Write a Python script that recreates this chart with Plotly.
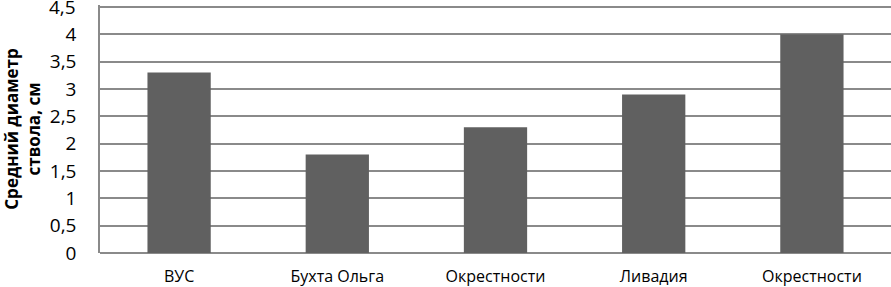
import plotly.graph_objects as go

categories = ["ВУС", "Бухта Ольга", "Окрестности", "Ливадия", "Окрестности"]
values = [3.3, 1.8, 2.3, 2.9, 4.0]
y_ticks = [0, 0.5, 1, 1.5, 2, 2.5, 3, 3.5, 4, 4.5]
positions = list(range(len(categories)))

fig = go.Figure(go.Bar(
    x=positions, y=values, width=0.4,
    marker=dict(color="#606060", line=dict(width=0)),
))

font_family = "Open Sans, Liberation Sans, sans-serif"
grid_color = "#8a8a8a"
fig.update_layout(
    width=891, height=287,
    margin=dict(l=100, r=0, t=5, b=34),
    paper_bgcolor="white", plot_bgcolor="white",
    separators=", ",
    showlegend=False,
    font=dict(family=font_family, color="#000000", size=15),
)
fig.update_xaxes(
    tickmode="array", tickvals=positions, ticktext=categories,
    range=[-0.5, len(categories) - 0.5],
    showgrid=False, zeroline=False, showline=False,
    ticks="", tickfont=dict(size=16), ticklabelstandoff=12,
    automargin=False,
)
fig.update_yaxes(
    range=[0, 4.5366], tickmode="array", tickvals=y_ticks,
    showgrid=True, gridcolor=grid_color, gridwidth=1.5,
    zeroline=True, zerolinecolor=grid_color, zerolinewidth=1.5,
    showline=True, linecolor=grid_color, linewidth=1.5,
    ticks="", tickfont=dict(size=19), ticklabelstandoff=18,
    automargin=False,
    title=dict(text="<b>Средний диаметр<br>ствола, см</b>", font=dict(size=17), standoff=6),
)

# top gridline and its label (plotly drops the tick closest to the paper edge)
top = y_ticks[-1]
fig.add_shape(type="line", xref="paper", x0=0, x1=1, yref="y", y0=top, y1=top,
              line=dict(color=grid_color, width=1.5), layer="below")
fig.add_annotation(xref="paper", x=0, yref="y", y=top,
                   text=f"{top:g}".replace(".", ","), showarrow=False,
                   xanchor="right", yanchor="middle", xshift=-22,
                   font=dict(size=19, family=font_family, color="#000000"))

fig.write_html(
    "out.html",
    config={"displayModeBar": False},
    post_script="document.body.style.margin='0';document.body.style.overflow='hidden';",
)
